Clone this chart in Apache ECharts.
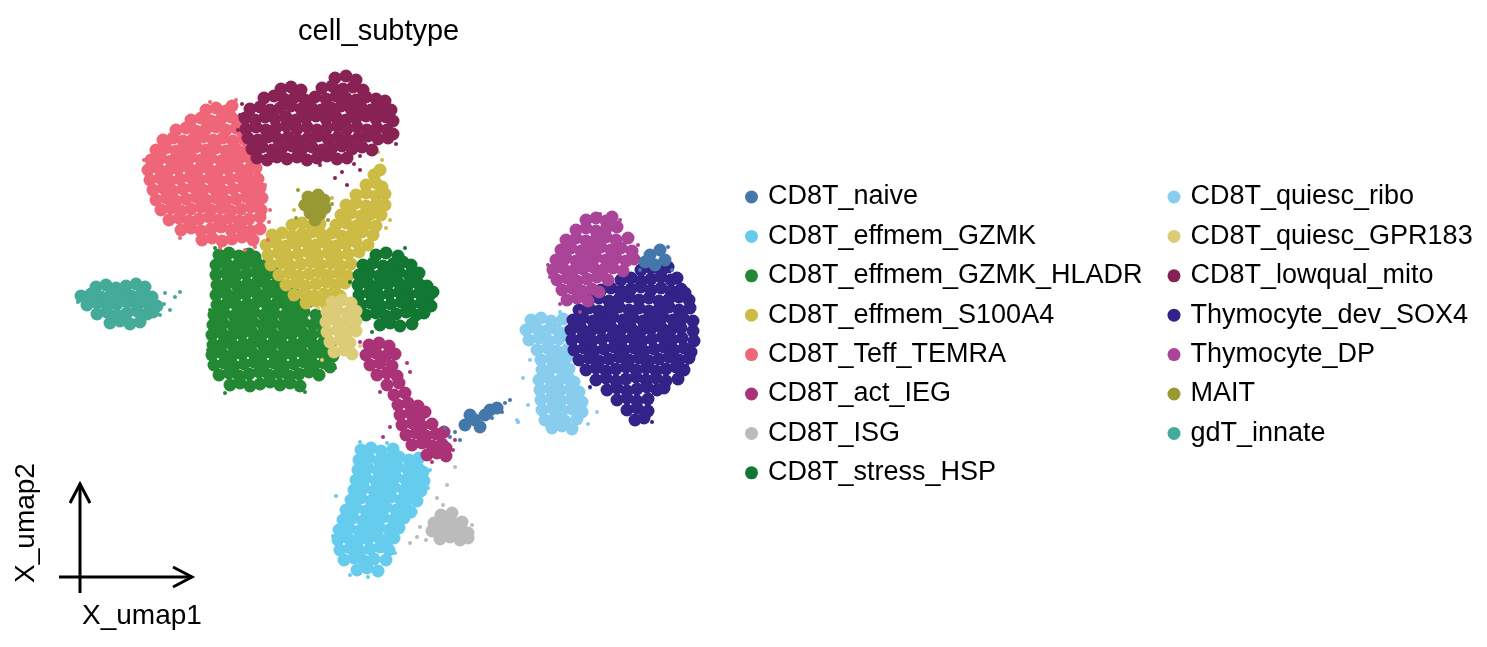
<!DOCTYPE html>
<html><head><meta charset="utf-8">
<script src="https://cdn.jsdelivr.net/npm/echarts@6/dist/echarts.min.js"></script>
<style>html,body{margin:0;padding:0;background:#fff}#c{width:1487px;height:647px}</style>
</head><body><div id="c"></div>
<script>
// Category names (legend order) and palette
const categories = ["CD8T_naive","CD8T_effmem_GZMK","CD8T_effmem_GZMK_HLADR","CD8T_effmem_S100A4","CD8T_Teff_TEMRA","CD8T_act_IEG","CD8T_ISG","CD8T_stress_HSP","CD8T_quiesc_ribo","CD8T_quiesc_GPR183","CD8T_lowqual_mito","Thymocyte_dev_SOX4","Thymocyte_DP","MAIT","gdT_innate"];
const palette = ["#4477AA","#66CCEE","#228833","#CCBB44","#EE6677","#AA3377","#BBBBBB","#117733","#88CCEE","#DDCC77","#882255","#332288","#AA4499","#999933","#44AA99"];
const legendCol1 = categories.slice(0, 8);
const legendCol2 = categories.slice(8);
const axisNames = ["X_umap1", "X_umap2"];

// Embedding coordinates [umap1, umap2] (dense cores and sparse strays)
const naiveCore = [[405,175],[415,180],[425,185],[410,185],[420,173],[430,190],[437,192],[590,345],[600,350],[605,340],[595,335],[585,338]];
const naiveStray = [[395,168],[390,163],[445,197],[450,200],[400,160],[385,172],[608,353],[612,330],[580,330],[442,188],[432,182]];

const gzmkCore = [[301,150],[311,152],[321,149],[333,151],
[299,140],[309,142],[319,139],[329,141],[339,143],[349,140],[359,142],
[298,130],[308,132],[318,129],[328,131],[338,133],[348,130],[358,132],[363,128],
[296,120],[306,122],[316,119],[326,121],[336,123],[346,120],[356,122],[364,119],
[294,110],[304,112],[314,109],[324,111],[334,113],[344,110],[354,112],[361,109],
[291,100],[301,102],[311,99],[321,101],[331,103],[341,100],[351,102],[357,99],
[286,90],[296,92],[306,89],[316,91],[326,93],[336,90],[346,92],[351,88],
[283,80],[293,82],[303,79],[313,81],[323,83],[333,80],[344,82],
[279,70],[289,72],[299,69],[309,71],[319,73],[329,70],[339,72],
[278,60],[288,62],[298,59],[308,61],[318,63],[328,60],[334,62],
[280,50],[290,52],[300,49],[310,51],[320,53],[329,50],
[284,40],[294,42],[304,39],[314,41],[326,40],
[297,30],[307,32],[318,29]];
const gzmkStray = [[300,158],[327,157],[276,104],[335,47],[308,23],[458,178],[290,25],[370,130],[368,112],[273,64]];

const hladrCore = [[159,345],[169,347],[179,344],[189,346],[195,343],
[156,335],[166,337],[176,334],[186,336],[196,338],[206,335],
[156,325],[166,327],[176,324],[186,326],[196,328],[206,325],[214,327],
[157,315],[167,317],[177,314],[187,316],[197,318],[207,315],[217,317],[224,314],
[156,305],[166,307],[176,304],[186,306],[196,308],[206,305],[216,307],[226,304],[234,306],
[157,295],[167,297],[177,294],[187,296],[197,298],[207,295],[217,297],[227,294],[237,296],[248,298],
[154,285],[164,287],[174,284],[184,286],[194,288],[204,285],[214,287],[224,284],[234,286],[244,288],[256,285],
[153,275],[163,277],[173,274],[183,276],[193,278],[203,275],[213,277],[223,274],[233,276],[243,278],[253,275],[261,277],
[152,265],[162,267],[172,264],[182,266],[192,268],[202,265],[212,267],[222,264],[232,266],[242,268],[252,265],[263,267],
[153,255],[163,257],[173,254],[183,256],[193,258],[203,255],[213,257],[223,254],[233,256],[243,258],[253,255],[263,257],[270,254],
[152,245],[162,247],[172,244],[182,246],[192,248],[202,245],[212,247],[222,244],[232,246],[242,248],[252,245],[262,247],[273,244],
[154,235],[164,237],[174,234],[184,236],[194,238],[204,235],[214,237],[224,234],[234,236],[244,238],[254,235],[264,237],[270,233],
[159,225],[169,227],[179,224],[189,226],[199,228],[209,225],[219,227],[229,224],[239,226],[249,228],[259,225],
[170,215],[180,217],[190,214],[200,216],[210,218],[220,215],[230,217],[240,214]];
const hladrStray = [[280,250],[285,262],[165,207],[245,208],[155,352],[148,250],[150,290],[275,232],[290,272],[160,355]];

const s100a4Core = [[314,425],[320,430],
[306,415],[316,417],[322,413],
[296,405],[306,407],[316,404],[325,406],
[286,395],[296,397],[306,394],[316,396],[325,395],
[281,385],[291,387],[301,384],[311,386],[321,385],
[232,375],[242,377],[252,374],[260,376],[276,375],[286,377],[296,374],[306,376],[316,374],
[212,365],[222,367],[232,364],[242,366],[252,368],[262,365],[272,367],[282,364],[292,366],[302,368],[313,365],
[206,355],[216,357],[226,354],[236,356],[246,358],[256,355],[266,357],[276,354],[286,356],[296,358],[308,355],
[208,345],[218,347],[228,344],[238,346],[248,348],[258,345],[268,347],[278,344],[288,346],[299,348],
[211,335],[221,337],[231,334],[241,336],[251,338],[261,335],[271,337],[281,334],[291,336],
[219,325],[229,327],[239,324],[249,326],[259,328],[269,325],[279,327],[288,324],
[226,315],[236,317],[246,314],[256,316],[266,318],[276,315],[285,317],
[234,305],[244,307],[254,304],[264,306],[274,308],[280,304],
[246,297],[256,299],[266,296]];
const s100a4Stray = [[322,440],[318,448],[234,390],[272,402],[330,380],[326,372],[200,372],[240,395]];

const temraCore = [[146,490],[156,492],[166,489],[172,494],
[131,480],[141,482],[151,479],[161,481],[171,483],[178,479],
[116,470],[126,472],[136,469],[146,471],[156,473],[166,470],[176,472],[182,468],
[103,460],[113,462],[123,459],[133,461],[143,463],[153,460],[163,462],[173,459],[184,461],
[96,450],[106,452],[116,449],[126,451],[136,453],[146,450],[156,452],[166,449],[176,451],[187,450],
[91,440],[101,442],[111,439],[121,441],[131,443],[141,440],[151,442],[161,439],[171,441],[181,443],[191,440],
[88,430],[98,432],[108,429],[118,431],[128,433],[138,430],[148,432],[158,429],[168,431],[178,433],[188,430],[196,432],
[90,420],[100,422],[110,419],[120,421],[130,423],[140,420],[150,422],[160,419],[170,421],[180,423],[190,420],[198,421],
[93,410],[103,412],[113,409],[123,411],[133,413],[143,410],[153,412],[163,409],[173,411],[183,413],[193,410],[200,412],
[96,400],[106,402],[116,399],[126,401],[136,403],[146,400],[156,402],[166,399],[176,401],[186,403],[196,400],[202,402],
[101,390],[111,392],[121,389],[131,391],[141,393],[151,390],[161,392],[171,389],[181,391],[191,393],[201,390],
[109,380],[119,382],[129,379],[139,381],[149,383],[159,380],[169,382],[179,379],[189,381],[200,383],
[121,370],[131,372],[141,369],[151,371],[161,373],[171,370],[181,372],[191,369],[200,371],
[142,360],[152,362],[162,359],[172,361],[182,363],[193,360]];
const temraStray = [[205,415],[210,390],[208,360],[185,350],[195,353],[160,352],[176,500],[150,498],[206,440],[209,378],[84,440],[120,362]];

const iegCore = [[309,255],[319,257],[329,254],
[306,245],[316,247],[326,244],[335,246],
[310,235],[320,237],[332,234],
[317,225],[327,227],[337,224],
[327,215],[339,217],
[334,205],[345,207],
[338,195],[348,197],[358,194],
[340,185],[350,187],[360,184],[365,188],
[342,175],[352,177],[362,174],[372,176],
[346,165],[356,167],[366,164],[376,166],[384,168],
[352,155],[362,157],[372,154],[382,156],[386,152],
[367,145],[377,147],[386,144]];
const iegStray = [[320,208],[347,237],[323,163],[393,150],[330,173],[343,217],[350,228],[300,258],[395,160],[372,138]];

const isgCore = [[381,85],[392,87],
[374,77],[384,79],[394,76],[402,78],
[372,69],[382,71],[392,68],[402,70],[408,67],
[380,61],[390,63],[400,60],[408,62]];
const isgStray = [[395,133],[387,115],[377,102],[383,95],[360,73],[357,63],[350,57],[366,60],[412,75]];

const hspCore = [[316,345],[326,347],[338,344],
[303,335],[313,337],[323,334],[333,336],[343,338],[351,335],
[299,325],[309,327],[319,324],[329,326],[339,328],[349,325],[359,327],
[298,315],[308,317],[318,314],[328,316],[338,318],[348,315],[358,317],[367,314],
[299,305],[309,307],[319,304],[329,306],[339,308],[349,305],[359,307],[369,304],[373,308],
[301,295],[311,297],[321,294],[331,296],[341,298],[351,295],[361,297],[371,294],
[306,285],[316,287],[326,284],[336,286],[346,288],[356,285],[364,287],
[320,275],[330,277],[340,274],[352,276]];
const hspStray = [[290,318],[295,290],[298,275],[312,268],[345,352],[288,300]];

const riboCore = [[471,280],[481,282],[491,279],[503,281],
[466,270],[476,272],[486,269],[496,271],[507,268],
[469,260],[479,262],[489,259],[499,261],[510,263],
[477,250],[487,252],[497,249],[508,251],
[481,240],[491,242],[501,239],[507,243],
[482,230],[492,232],[502,229],[509,231],
[479,220],[489,222],[499,219],[509,221],[514,218],
[480,210],[490,212],[500,209],[510,211],[519,208],
[481,200],[491,202],[501,199],[511,201],[522,198],
[482,190],[492,192],[502,189],[512,191],[522,188],
[485,180],[495,182],[505,179],[517,181],
[492,172],[502,174],[512,171]];
const riboStray = [[465,260],[463,222],[468,195],[458,178],[537,188],[530,212],[500,288],[457,180],[470,240],[528,176]];

const gpr183Core = [[272,298],[282,300],[291,297],
[267,288],[277,290],[287,287],[296,289],
[266,278],[276,280],[286,277],[296,279],
[267,268],[277,270],[287,267],[296,269],
[270,258],[280,260],[290,257],
[274,248],[284,250],[292,246]];
const gpr183Stray = [[262,240],[300,254],[258,292]];

const mitoCore = [[275,522],[286,524],[296,520],
[221,511],[231,513],[241,510],[262,512],[272,514],[283,511],[293,513],[303,510],
[204,502],[214,504],[224,501],[235,503],[245,500],[255,503],[266,501],[276,504],[286,502],[296,500],[306,503],[316,501],[325,499],
[190,491],[200,493],[210,490],[220,492],[231,494],[241,491],[251,493],[261,490],[271,492],[281,494],[291,491],[301,493],[311,490],[321,492],[331,490],
[185,482],[195,480],[205,483],[215,481],[226,483],[236,480],[246,482],[256,484],[266,481],[276,483],[286,480],[296,482],[306,484],[316,481],[326,483],[333,479],
[186,471],[196,473],[206,470],[216,472],[226,474],[237,471],[247,473],[257,470],[267,472],[277,474],[287,471],[297,473],[307,470],[317,472],[327,470],[333,466],
[188,462],[198,460],[208,463],[218,461],[228,463],[238,460],[248,462],[258,464],[268,461],[278,463],[288,460],[298,462],[308,464],[318,461],[328,462],
[192,451],[202,453],[212,450],[222,452],[232,454],[242,451],[252,453],[262,450],[272,452],[282,454],[292,451],[302,453],[312,450],
[197,442],[207,440],[217,443],[227,441],[237,443],[247,440],[257,442],[267,444],[277,441],[287,442]];
const mitoStray = [[180,485],[178,470],[282,428],[287,415],[275,422],[300,430],[260,435],[294,436],[182,496],[336,456],[300,444]];

const sox4Core = [[581,330],[591,332],[601,329],[608,333],
[561,320],[571,322],[581,319],[591,321],[601,323],[611,320],[617,322],
[541,310],[551,312],[561,309],[571,311],[581,313],[591,310],[601,312],[611,309],[621,311],[625,307],
[529,300],[539,302],[549,299],[559,301],[569,303],[579,300],[589,302],[599,299],[609,301],[619,303],[629,300],
[519,290],[529,292],[539,289],[549,291],[559,293],[569,290],[579,292],[589,289],[599,291],[609,293],[619,290],[630,292],
[513,280],[523,282],[533,279],[543,281],[553,283],[563,280],[573,282],[583,279],[593,281],[603,283],[613,280],[623,282],[633,279],
[511,270],[521,272],[531,269],[541,271],[551,273],[561,270],[571,272],[581,269],[591,271],[601,273],[611,270],[621,272],[633,269],
[512,260],[522,262],[532,259],[542,261],[552,263],[562,260],[572,262],[582,259],[592,261],[602,263],[612,260],[622,262],[634,259],
[514,250],[524,252],[534,249],[544,251],[554,253],[564,250],[574,252],[584,249],[594,251],[604,253],[614,250],[624,252],[631,248],
[519,240],[529,242],[539,239],[549,241],[559,243],[569,240],[579,242],[589,239],[599,241],[609,243],[619,240],[629,242],
[526,230],[536,232],[546,229],[556,231],[566,233],[576,230],[586,232],[596,229],[606,231],[616,233],[624,230],
[536,220],[546,222],[556,219],[566,221],[576,223],[586,220],[596,222],[606,219],[618,221],
[547,210],[557,212],[567,209],[577,211],[587,213],[597,210],[604,212],
[557,200],[567,202],[577,199],[588,201],
[567,190],[577,192],[588,189],
[575,180],[584,182]];
const sox4Stray = [[627,235],[563,188],[573,180],[512,278],[617,318],[615,325],[636,265],[508,262],[592,178],[530,213]];

const dpCore = [[526,380],[536,382],[546,379],[552,383],
[516,370],[526,372],[536,369],[546,371],[557,373],
[506,360],[516,362],[526,359],[536,361],[546,363],[556,360],[568,362],
[501,350],[511,352],[521,349],[531,351],[541,353],[551,350],[561,352],[572,349],
[496,340],[506,342],[516,339],[526,341],[536,343],[546,340],[556,342],[566,339],[574,341],
[493,330],[503,332],[513,329],[523,331],[533,333],[543,330],[553,332],[563,329],
[497,320],[507,322],[517,319],[527,321],[537,323],[548,320],
[502,310],[512,312],[522,309],[532,311],[539,308],
[507,300],[517,302],[528,299]];
const dpStray = [[490,323],[500,296],[520,288],[488,335],[578,355],[540,386],[560,380]];

const maitCore = [[248,403],[258,405],[264,400],[245,395],[255,396],[265,392],[250,387],[260,386],[255,380]];
const maitStray = [[238,410],[272,396],[236,382],[268,380]];

const gdtCore = [[36,313],[46,315],[56,312],[66,314],[76,316],[85,313],
[21,304],[31,306],[41,303],[51,305],[61,307],[71,304],[81,306],[92,303],
[27,295],[37,297],[47,294],[57,296],[67,298],[77,295],[87,297],[97,294],
[37,286],[47,288],[57,285],[67,287],[77,289],[87,286],[93,288],
[50,277],[60,279],[70,276],[80,278]];
const gdtStray = [[105,307],[120,308],[100,285],[110,290],[115,303],[104,296],[18,298]];

const coreSets = [naiveCore, gzmkCore, hladrCore, s100a4Core, temraCore, iegCore, isgCore, hspCore, riboCore, gpr183Core, mitoCore, sox4Core, dpCore, maitCore, gdtCore];
const straySets = [naiveStray, gzmkStray, hladrStray, s100a4Stray, temraStray, iegStray, isgStray, hspStray, riboStray, gpr183Stray, mitoStray, sox4Stray, dpStray, maitStray, gdtStray];

const FONT = "'Liberation Sans', Arial, Helvetica, sans-serif";
const chart = echarts.init(document.getElementById('c'), null, {renderer: 'canvas'});

const series = [];
categories.forEach((name, i) => {
  const z = name === 'CD8T_naive' ? 4 : 2;
  series.push({
    type: 'scatter', name: name, data: coreSets[i], symbol: 'circle', symbolSize: 13,
    itemStyle: {color: palette[i], opacity: 1}, z: z, silent: true,
    emphasis: {disabled: true}
  });
  series.push({
    type: 'scatter', name: name, data: straySets[i], symbol: 'circle', symbolSize: 4,
    itemStyle: {color: palette[i], opacity: 1}, z: z, silent: true,
    emphasis: {disabled: true}
  });
});

const legendBase = {
  orient: 'vertical', icon: 'circle', itemWidth: 23, itemHeight: 13, itemGap: 12.4,
  padding: 0, selectedMode: false,
  textStyle: {fontSize: 27, lineHeight: 26, color: '#000', fontFamily: FONT}
};

chart.setOption({
  animation: false,
  backgroundColor: '#fff',
  color: palette,
  title: {
    text: 'cell_subtype', left: 293, top: 12,
    textStyle: {fontSize: 29, fontWeight: 'normal', color: '#000', fontFamily: FONT}
  },
  legend: [
    Object.assign({}, legendBase, {left: 745, top: 183.5, data: legendCol1}),
    Object.assign({}, legendBase, {left: 1167.5, top: 183.5, data: legendCol2})
  ],
  grid: {left: 60, top: 40, width: 700, height: 560, containLabel: false},
  xAxis: {type: 'value', min: 0, max: 700, show: false, name: axisNames[0]},
  yAxis: {type: 'value', min: 0, max: 560, show: false, name: axisNames[1]},
  series: series,
  graphic: [
    {type: 'line', shape: {x1: 80, y1: 593, x2: 80, y2: 484}, style: {stroke: '#000', lineWidth: 3}, z: 10},
    {type: 'polyline', shape: {points: [[70, 503], [80, 484], [90, 503]]}, style: {stroke: '#000', lineWidth: 3, fill: null, lineJoin: 'miter'}, z: 10},
    {type: 'line', shape: {x1: 59, y1: 577, x2: 192, y2: 577}, style: {stroke: '#000', lineWidth: 3}, z: 10},
    {type: 'polyline', shape: {points: [[173, 567], [192, 577], [173, 587]]}, style: {stroke: '#000', lineWidth: 3, fill: null, lineJoin: 'miter'}, z: 10},
    {type: 'text', x: 82, y: 616, style: {text: axisNames[0], fontSize: 28, fill: '#000', fontFamily: FONT, verticalAlign: 'middle', align: 'left'}, z: 10},
    {type: 'text', x: 26, y: 523, rotation: Math.PI / 2, style: {text: axisNames[1], fontSize: 28, fill: '#000', fontFamily: FONT, verticalAlign: 'middle', align: 'center'}, z: 10}
  ]
});
</script>
</body></html>
